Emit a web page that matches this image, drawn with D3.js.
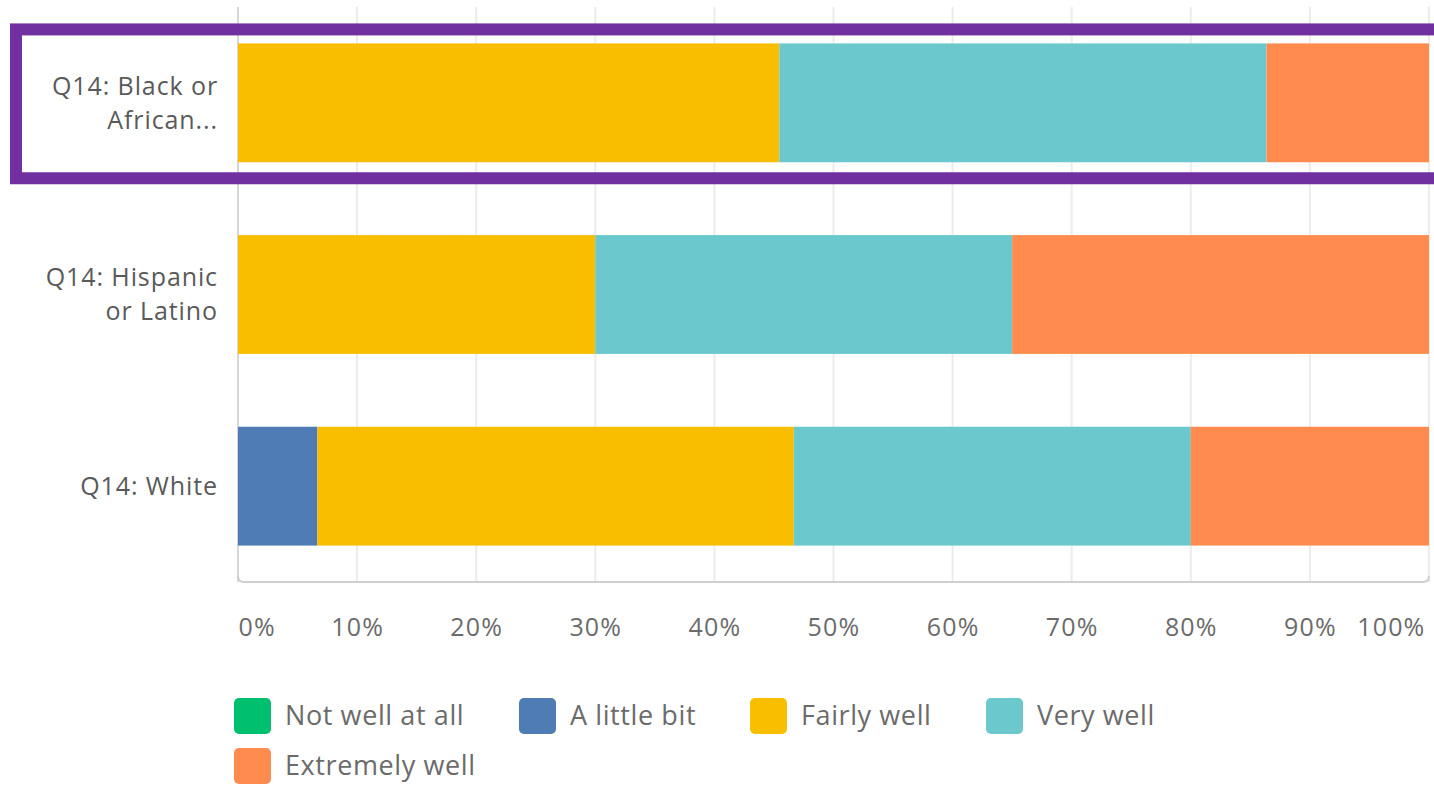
<!DOCTYPE html>
<html>
<head>
<meta charset="utf-8">
<script src="https://cdn.jsdelivr.net/npm/d3@7"></script>
<style>
	body { margin: 0; background: #fff; }
	svg { display: block; font-family: 'Open Sans', sans-serif; }
</style>
</head>
<body>
<script>
// categories (label lines as shown on the chart)
const categories = ['Black', 'Hispanic', 'White'];
const categoryLines = [
	['Q14: Black or', 'African...'],
	['Q14: Hispanic', 'or Latino'],
	['Q14: White']
];

// answer series, in percent
const seriesNames = ['Not well at all', 'A little bit', 'Fairly well', 'Very well', 'Extremely well'];
const seriesColors = ['#00bf6f', '#507cb6', '#f9be00', '#6bc8cd', '#ff8b4f'];
const notWellAtAll = [0, 0, 0];
const aLittleBit = [0, 0, 6.67];
const fairlyWell = [45.45, 30, 40];
const veryWell = [40.91, 35, 33.33];
const extremelyWell = [13.64, 35, 20];

const xTicks = [0, 10, 20, 30, 40, 50, 60, 70, 80, 90, 100];

const width = 1434;
const height = 790;
const plotLeft = 238;
const plotRight = 1429;
const plotTop = 7;
const plotBottom = 582;

const rows = categories.map((c, i) => ({
	category: c,
	'Not well at all': notWellAtAll[i],
	'A little bit': aLittleBit[i],
	'Fairly well': fairlyWell[i],
	'Very well': veryWell[i],
	'Extremely well': extremelyWell[i]
}));

const stacked = d3.stack().keys(seriesNames)(rows);

const svg = d3.select('body').append('svg').attr('width', width).attr('height', height);

const xScale = d3.scaleLinear().domain([ 0, 100 ]).range([ plotLeft, plotRight ]);
const yScale = d3.scaleBand().domain(categories).range([ plotTop, plotBottom ]).paddingInner(0.38).paddingOuter(0.19);
const color = d3.scaleOrdinal().domain(seriesNames).range(seriesColors);

// grid lines
svg
	.append('g')
	.selectAll('line')
	.data(xTicks)
	.enter()
	.append('line')
	.attr('x1', (d) => xScale(d))
	.attr('x2', (d) => xScale(d))
	.attr('y1', plotTop)
	.attr('y2', plotBottom)
	.attr('stroke', (d) => (d === 0 ? '#d6d6d6' : '#ececec'))
	.attr('stroke-width', 2);

// bottom border of the plot, with rounded corners
svg
	.append('path')
	.attr('d', `M${plotLeft},${plotBottom - 6} Q${plotLeft},${plotBottom} ${plotLeft + 6},${plotBottom} L${plotRight - 6},${plotBottom} Q${plotRight},${plotBottom} ${plotRight},${plotBottom - 6}`)
	.attr('fill', 'none')
	.attr('stroke', '#cfcfcf')
	.attr('stroke-width', 2);

// bars
svg
	.append('g')
	.selectAll('g')
	.data(stacked)
	.enter()
	.append('g')
	.attr('fill', (d) => color(d.key))
	.selectAll('rect')
	.data((d) => d)
	.enter()
	.append('rect')
	.attr('x', (d) => xScale(d[0]))
	.attr('y', (d) => yScale(d.data.category))
	.attr('width', (d) => xScale(d[1]) - xScale(d[0]))
	.attr('height', yScale.bandwidth());

// x axis
const xAxis = d3.axisBottom(xScale).tickValues(xTicks).tickSize(0).tickPadding(0).tickFormat((d) => d + '%');
const xAxisG = svg.append('g').attr('transform', `translate(0, ${plotBottom + 54})`).call(xAxis);
xAxisG.select('.domain').remove();
xAxisG
	.selectAll('text')
	.attr('font-size', 25)
	.attr('letter-spacing', 1.2)
	.attr('fill', '#6b6b6b')
	.attr('font-family', "'Open Sans', sans-serif")
	.attr('dy', 0)
	.attr('text-anchor', (d) => (d === 0 ? 'start' : d === 100 ? 'end' : 'middle'))
	.attr('x', (d) => (d === 100 ? -4 : 0));

// category labels
const catG = svg
	.append('g')
	.selectAll('text')
	.data(categories)
	.enter()
	.append('text')
	.attr('text-anchor', 'end')
	.attr('font-size', 25)
	.attr('letter-spacing', 0.9)
	.attr('fill', '#5a5a5a')
	.attr('x', plotLeft - 20)
	.attr('y', (d) => yScale(d) + yScale.bandwidth() / 2);

catG.each(function(d, i) {
	const lines = categoryLines[i];
	const lineH = 34;
	const start = -(lines.length - 1) * lineH / 2;
	d3
		.select(this)
		.selectAll('tspan')
		.data(lines)
		.enter()
		.append('tspan')
		.attr('x', plotLeft - 20)
		.attr('y', (l, j) => yScale(d) + yScale.bandwidth() / 2 + start + j * lineH)
		.attr('dy', '0.35em')
		.text((l) => l);
});

// highlight box round the first row
const boxY = yScale(categories[0]);
svg
	.append('rect')
	.attr('x', 16)
	.attr('y', boxY - 14)
	.attr('width', width + 20)
	.attr('height', yScale.bandwidth() + 30)
	.attr('fill', 'none')
	.attr('stroke', '#7030a0')
	.attr('stroke-width', 12);

// legend
const legendPos = [
	[ 234, 698 ],
	[ 519, 698 ],
	[ 750, 698 ],
	[ 986, 698 ],
	[ 234, 748 ]
];
const legend = svg
	.append('g')
	.selectAll('g')
	.data(seriesNames)
	.enter()
	.append('g')
	.attr('transform', (d, i) => `translate(${legendPos[i][0]}, ${legendPos[i][1]})`);

legend
	.append('rect')
	.attr('width', 37)
	.attr('height', 36)
	.attr('rx', 5)
	.attr('fill', (d) => color(d));

legend
	.append('text')
	.attr('x', 51)
	.attr('y', 18)
	.attr('dy', '0.35em')
	.attr('font-size', 27)
	.attr('letter-spacing', 0.6)
	.attr('fill', '#6b6b6b')
	.text((d) => d);
</script>
</body>
</html>
